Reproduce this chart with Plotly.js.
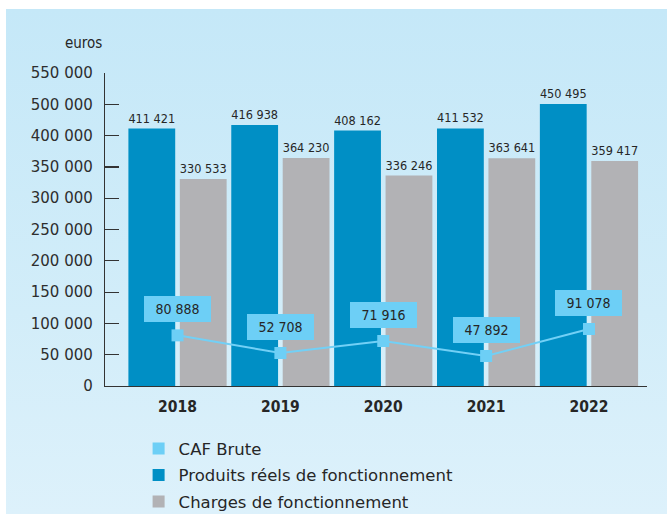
<!DOCTYPE html>
<html>
<head>
<meta charset="utf-8">
<script src="https://cdn.plot.ly/plotly-3.0.1.min.js"></script>
<style>
html,body{margin:0;padding:0;background:#ffffff;overflow:hidden;width:667px;height:514px;}
#wrap{position:absolute;left:6px;top:9px;width:661px;height:505px;background:linear-gradient(to bottom,#c5e8f8 0%,#d2edf9 60%,#ddf1fb 100%);}
#chart{position:absolute;left:0;top:0;width:667px;height:580px;}
</style>
</head>
<body>
<div id="wrap"></div>
<div id="chart"></div>
<script>
const years = ['2018', '2019', '2020', '2021', '2022'];
const produits = [411421, 416938, 408162, 411532, 450495];
const charges = [330533, 364230, 336246, 363641, 359417];
const caf = [80888, 52708, 71916, 47892, 91078];
const tickVals = [0, 50000, 100000, 150000, 200000, 250000, 300000, 350000, 400000, 450000, 500000];
const tickText = ['0', '50 000', '100 000', '150 000', '200 000', '250 000', '300 000', '350 000', '400 000', '500 000', '550 000'];

function fmt(v){ return String(v).replace(/\B(?=(\d{3})+(?!\d))/g, ' '); }

const dark = '#262626';
const condensed = 'DejaVu Sans Condensed, DejaVu Sans, sans-serif';
const barFont = {family: condensed, size: 13, color: dark};

const traces = [
  {type:'bar', name:'Produits réels de fonctionnement', x:years, y:produits,
   marker:{color:'#008fc5'}, text:produits.map(fmt), textposition:'outside',
   textfont:barFont, cliponaxis:false, hoverinfo:'skip', legendrank:2, legendgroup:'b'},
  {type:'bar', name:'Charges de fonctionnement', x:years, y:charges,
   marker:{color:'#b2b2b5'}, text:charges.map(fmt), textposition:'outside',
   textfont:barFont, cliponaxis:false, hoverinfo:'skip', legendrank:3, legendgroup:'c'},
  {type:'scatter', mode:'lines', x:years, y:caf, showlegend:false,
   line:{color:'#72d0f6', width:2}, hoverinfo:'skip'},
  {type:'scatter', mode:'markers', name:'CAF Brute', x:years, y:caf,
   marker:{symbol:'square', size:12, color:'#6dcff6'}, hoverinfo:'skip', legendrank:1, legendgroup:'a'}
];

const annotations = years.map((yr, i) => ({
  x: i, y: caf[i], xref:'x', yref:'y', text: fmt(caf[i]), showarrow:false,
  yshift: 26, bgcolor:'#6dcff6', borderwidth:0, borderpad:3, width:61, height:20,
  font:{family: condensed, size:14, color:dark}
}));
annotations.push({
  text:'euros', xref:'paper', yref:'paper', x:0, y:1, xanchor:'right', yanchor:'middle',
  xshift:-1, yshift:30, showarrow:false,
  font:{family: condensed, size:15, color:dark}
});

const layout = {
  width:667, height:580,
  paper_bgcolor:'rgba(0,0,0,0)', plot_bgcolor:'rgba(0,0,0,0)',
  margin:{l:105, r:20, t:73, b:194},
  barmode:'group', bargap:0, bargroupgap:0.09,
  showlegend:true,
  legend:{x:0.062, xanchor:'left', y:-0.145, yanchor:'top',
    orientation:'v', bgcolor:'rgba(0,0,0,0)', traceorder:'grouped', tracegroupgap:2,
    font:{family:'DejaVu Sans, sans-serif', size:16.5, color:dark}},
  xaxis:{type:'category', range:[-0.705, 4.564], showgrid:false, zeroline:false,
    showline:true, linecolor:'#333', linewidth:1.2, ticks:'', ticklabelstandoff:6,
    tickfont:{family: condensed, size:15.5, color:dark, weight:'bold'}, fixedrange:true},
  yaxis:{range:[0, 500000], showgrid:false, zeroline:false, showline:true,
    linecolor:'#333', linewidth:1.2, ticks:'inside', ticklen:14, tickcolor:'#333', tickwidth:1.2,
    tickvals:tickVals, ticktext:tickText, ticklabelstandoff:8,
    tickfont:{family:'DejaVu Sans, sans-serif', size:15, color:'#2e2e2e'}, fixedrange:true},
  annotations: annotations,
  font:{family:'DejaVu Sans, sans-serif', color:dark}
};

Plotly.newPlot('chart', [traces[2], traces[3], traces[0], traces[1]], layout, {displayModeBar:false, staticPlot:true});
</script>
</body>
</html>
